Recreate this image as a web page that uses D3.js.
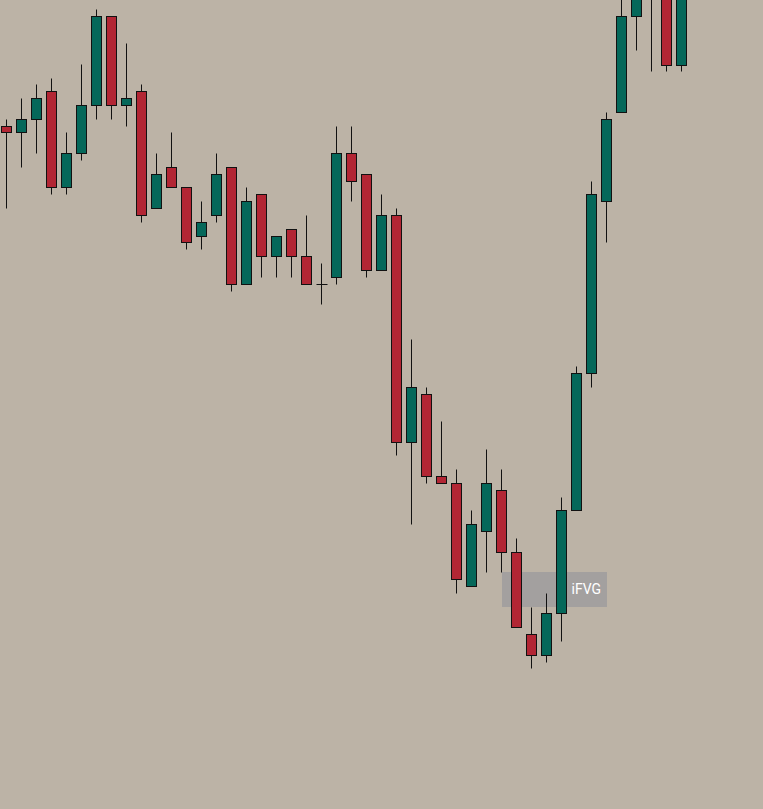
<!DOCTYPE html>
<html>
<head>
<meta charset="utf-8">
<script src="https://cdn.jsdelivr.net/npm/d3@7"></script>
<style>
  html, body { margin: 0; padding: 0; background: #bcb3a6; overflow: hidden; }
  svg { display: block; }
</style>
</head>
<body>
<svg id="chart"></svg>
<script>
// candle data (price)
var opens  = [20968.5, 20967, 20970.25, 20977.25, 20953.25, 20961.75, 20973.75, 20996, 20973.75, 20977.25,
              20948, 20958.25, 20953.25, 20941, 20946.25, 20958.25, 20929, 20951.5, 20936, 20942.75,
              20936, 20929, 20930.75, 20961.75, 20956.5, 20932.5, 20946.25, 20889.5, 20901.5, 20881,
              20879.25, 20853.5, 20867.25, 20877.5, 20862, 20841.5, 20836.25, 20846.75, 20872.5, 20906.75,
              20949.75, 20972, 20996, 21005, 21007.5, 20983.75];
var highs  = [20970.25, 20975.5, 20979, 20980.5, 20967, 20984, 20997.75, 20996, 20989.25, 20979,
              20961.75, 20967, 20953.25, 20949.75, 20961.75, 20958.25, 20953.25, 20951.5, 20941, 20942.75,
              20946.25, 20934.25, 20968.5, 20968.5, 20956.5, 20951.5, 20948, 20915.25, 20903.25, 20894.75,
              20882.75, 20872.5, 20887.75, 20882.75, 20865.5, 20848.25, 20851.75, 20875.75, 20908.5, 20954.75,
              20972, 21001.5, 21007.5, 21013.75, 21010, 21005];
var lows   = [20948, 20958.25, 20961.75, 20951.5, 20951.5, 20960, 20970.25, 20970.25, 20968.5, 20944.5,
              20948, 20953.25, 20937.75, 20937.75, 20944.5, 20927.25, 20929, 20930.75, 20930.75, 20930.75,
              20929, 20924, 20929, 20949.75, 20930.75, 20932.5, 20886.25, 20869, 20879.25, 20879.25,
              20851.75, 20853.5, 20857, 20857, 20843.25, 20833, 20834.5, 20839.75, 20872.5, 20903.25,
              20939.5, 20972, 20987.5, 20982.25, 20982.25, 20982.25];
var closes = [20967, 20970.25, 20975.5, 20953.25, 20961.75, 20973.75, 20996, 20973.75, 20975.5, 20946.25,
              20956.5, 20953.25, 20939.5, 20944.5, 20956.5, 20929, 20949.75, 20936, 20941, 20936,
              20929, 20929, 20961.75, 20954.75, 20932.5, 20946.25, 20889.5, 20903.25, 20881, 20879.25,
              20855.25, 20869, 20879.25, 20862, 20843.25, 20836.25, 20846.75, 20872.5, 20906.75, 20951.5,
              20970.25, 20996, 21003.5, 21011.25, 20983.75, 21002.5];

// inverse fair value gap zone
var zoneLabel = "iFVG";
var zoneStart = 33, zoneEnd = 40;
var zoneTop = 20857, zoneBottom = 20848.25;

var width = 763, height = 809;
var upColor = "#05685a", downColor = "#b22634";

var candles = opens.map(function(o, i) {
  return {i: i, open: o, high: highs[i], low: lows[i], close: closes[i]};
});

var svg = d3.select("#chart")
  .attr("width", width)
  .attr("height", height);

svg.append("rect")
  .attr("width", width)
  .attr("height", height)
  .attr("fill", "#bcb3a6");

var x = d3.scaleLinear()
  .domain([0, candles.length - 1])
  .range([6.5, 6.5 + 15 * (candles.length - 1)]);

var y = d3.scaleLinear()
  .domain([21000, 21000 - height / 4])
  .range([0, height]);

function py(v) { return Math.round(y(v)) + 0.5; }

// zone box sits behind the candles
svg.append("rect")
  .attr("x", Math.round(x(zoneStart)))
  .attr("y", Math.round(y(zoneTop)))
  .attr("width", Math.round(x(zoneEnd)) - Math.round(x(zoneStart)) + 1)
  .attr("height", Math.round(y(zoneBottom)) - Math.round(y(zoneTop)))
  .attr("fill", "#a3a09f");

svg.append("text")
  .attr("x", x(zoneEnd) - 5.5)
  .attr("y", (y(zoneTop) + y(zoneBottom)) / 2 - 0.5)
  .attr("dy", "0.36em")
  .attr("text-anchor", "end")
  .attr("fill", "#ffffff")
  .style("font-family", "Roboto, 'Open Sans', sans-serif")
  .style("font-size", "14px")
  .style("font-weight", 400)
  .text(zoneLabel);

var g = svg.append("g");

var candle = g.selectAll(".candle")
  .data(candles)
  .enter().append("g")
  .attr("class", "candle");

// wicks
candle.append("line")
  .attr("x1", function(d) { return x(d.i); })
  .attr("x2", function(d) { return x(d.i); })
  .attr("y1", function(d) { return py(d.high); })
  .attr("y2", function(d) { return py(d.low); })
  .attr("stroke", "#111")
  .attr("stroke-width", 1);

// bodies
candle.each(function(d) {
  var top = py(Math.max(d.open, d.close));
  var bot = py(Math.min(d.open, d.close));
  var sel = d3.select(this);
  if (bot - top < 1) {
    // doji
    sel.append("line")
      .attr("x1", x(d.i) - 5)
      .attr("x2", x(d.i) + 6)
      .attr("y1", top)
      .attr("y2", top)
      .attr("stroke", "#111");
  } else {
    sel.append("rect")
      .attr("x", x(d.i) - 5)
      .attr("y", top)
      .attr("width", 10)
      .attr("height", bot - top)
      .attr("fill", d.close >= d.open ? upColor : downColor)
      .attr("stroke", "#111")
      .attr("stroke-width", 1);
  }
});
</script>
</body>
</html>
